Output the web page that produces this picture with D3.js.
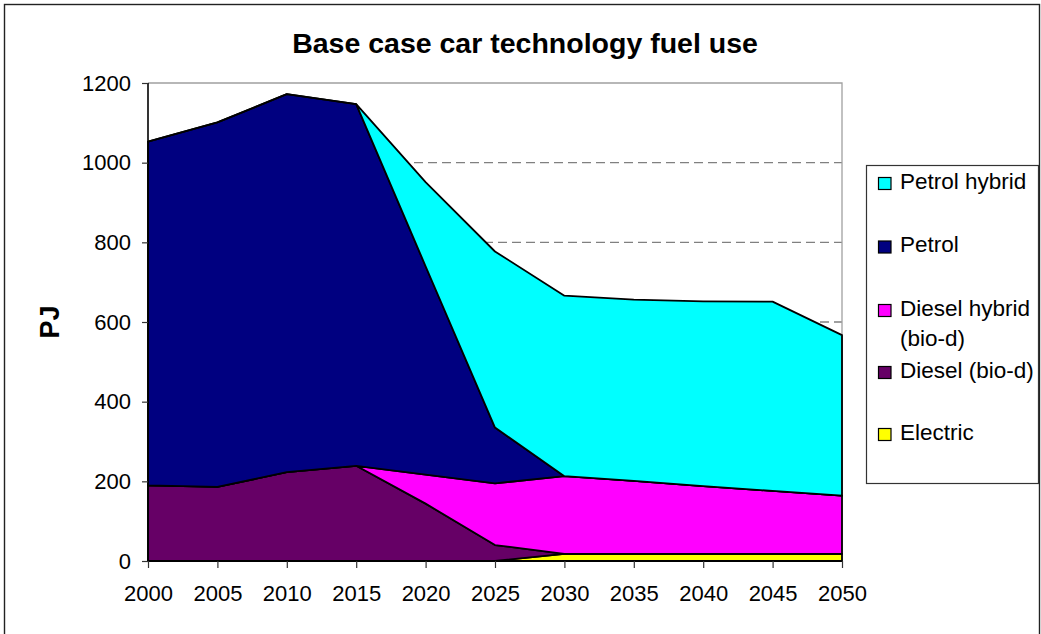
<!DOCTYPE html>
<html>
<head>
<meta charset="utf-8">
<script src="https://cdn.jsdelivr.net/npm/d3@7"></script>
<style>
  html, body { margin: 0; padding: 0; background: #fff; }
  svg { display: block; font-family: Arial, "Liberation Sans", sans-serif; }
</style>
</head>
<body>
<svg id="chart" width="1041" height="634"></svg>
<script>
// Fuel use by car technology, base case (PJ)
const years = [2000, 2005, 2010, 2015, 2020, 2025, 2030, 2035, 2040, 2045, 2050];
const electric     = [0, 0, 0, 0, 0, 0, 18, 18, 18, 18, 18];
const diesel       = [190, 186, 223, 239, 144, 40, 0, 0, 0, 0, 0];
const dieselHybrid = [0, 0, 0, 0, 73, 155, 195, 183, 170, 158, 146];
const petrol       = [863, 915, 949, 908, 523, 140, 0, 0, 0, 0, 0];
const petrolHybrid = [0, 0, 0, 0, 211, 442, 453, 455, 464, 475, 403];
const yTicks = [0, 200, 400, 600, 800, 1000, 1200];

// Series from the bottom of the stack upwards
const seriesDefs = [
  { key: "Electric", values: electric, color: "#FFFF00" },
  { key: "Diesel (bio-d)", values: diesel, color: "#660066" },
  { key: "Diesel hybrid (bio-d)", values: dieselHybrid, color: "#FF00FF" },
  { key: "Petrol", values: petrol, color: "#000080" },
  { key: "Petrol hybrid", values: petrolHybrid, color: "#00FFFF" }
];

// Legend lists the series top-down
const legendItems = [
  { lines: ["Petrol hybrid"], color: "#00FFFF" },
  { lines: ["Petrol"], color: "#000080" },
  { lines: ["Diesel hybrid", "(bio-d)"], color: "#FF00FF" },
  { lines: ["Diesel (bio-d)"], color: "#660066" },
  { lines: ["Electric"], color: "#FFFF00" }
];

const svg = d3.select("#chart");
const plot = { left: 148, right: 842, top: 83, bottom: 561 };

// Outer chart frame
svg.append("rect")
  .attr("x", 4.5).attr("y", 4.5)
  .attr("width", 1035).attr("height", 632)
  .attr("fill", "#fff").attr("stroke", "#222").attr("stroke-width", 1.4);

const x = d3.scaleLinear().domain([2000, 2050]).range([plot.left, plot.right]);
const y = d3.scaleLinear().domain([0, 1200]).range([plot.bottom, plot.top]);

// Dashed gridlines
svg.append("g")
  .selectAll("line")
  .data(yTicks.filter(t => t > 0 && t < 1200))
  .join("line")
  .attr("x1", plot.left).attr("x2", plot.right)
  .attr("y1", d => y(d)).attr("y2", d => y(d))
  .attr("stroke", "#808080").attr("stroke-width", 1.3)
  .attr("stroke-dasharray", "9,5");

// Plot area border (top and right)
svg.append("path")
  .attr("d", `M${plot.left},${y(1200)}H${plot.right}V${plot.bottom}`)
  .attr("fill", "none").attr("stroke", "#a0a0a0").attr("stroke-width", 1.3);

// Stacked areas
const table = years.map((yr, i) => {
  const row = { year: yr };
  seriesDefs.forEach(s => { row[s.key] = s.values[i]; });
  return row;
});
const stack = d3.stack().keys(seriesDefs.map(s => s.key));
const stacked = stack(table);

const area = d3.area()
  .x(d => x(d.data.year))
  .y0(d => y(d[0]))
  .y1(d => y(d[1]));

svg.append("g")
  .selectAll("path")
  .data(stacked)
  .join("path")
  .attr("d", area)
  .attr("fill", (d, i) => seriesDefs[i].color)
  .attr("stroke", "#000")
  .attr("stroke-width", 1.8)
  .attr("stroke-linejoin", "round");

// Axes
const yAxis = d3.axisLeft(y).tickValues(yTicks).tickFormat(d3.format("d")).tickSize(6).tickPadding(11);
const xAxis = d3.axisBottom(x).tickValues(years).tickFormat(d3.format("d")).tickSize(7).tickPadding(17);

const gy = svg.append("g").attr("transform", `translate(${plot.left},0)`).call(yAxis);
const gx = svg.append("g").attr("transform", `translate(0,${plot.bottom})`).call(xAxis);

[gy, gx].forEach(g => {
  g.select(".domain").attr("stroke", "#000").attr("stroke-width", 1.6);
  g.selectAll(".tick line").attr("stroke", "#333").attr("stroke-width", 1.2);
  g.selectAll(".tick text")
    .attr("font-family", "Arial, 'Liberation Sans', sans-serif")
    .attr("font-size", 22).attr("fill", "#000");
});
gx.select(".domain").attr("d", `M${plot.left},0H${plot.right}`);
gy.select(".domain").attr("d", `M0,${plot.bottom}V${plot.top}`);

// Title
svg.append("text")
  .attr("x", 525).attr("y", 53)
  .attr("text-anchor", "middle")
  .attr("font-size", 28.5).attr("font-weight", "bold")
  .text("Base case car technology fuel use");

// Y axis title
svg.append("text")
  .attr("transform", "translate(59,322) rotate(-90)")
  .attr("text-anchor", "middle")
  .attr("font-size", 27).attr("font-weight", "bold")
  .text("PJ");

// Legend
const legend = svg.append("g");
legend.append("rect")
  .attr("x", 866.5).attr("y", 165.5)
  .attr("width", 172).attr("height", 318)
  .attr("fill", "#fff").attr("stroke", "#333").attr("stroke-width", 1.2);

const rowStep = [0, 63.5, 127, 189, 251];
legendItems.forEach((item, i) => {
  const base = 188.5 + rowStep[i];
  legend.append("rect")
    .attr("x", 878.5).attr("y", base - 11)
    .attr("width", 12.5).attr("height", 12)
    .attr("fill", item.color).attr("stroke", "#000").attr("stroke-width", 1.2);
  item.lines.forEach((line, j) => {
    legend.append("text")
      .attr("x", 900).attr("y", base + j * 30)
      .attr("font-size", 22.5)
      .text(line);
  });
});
</script>
</body>
</html>
